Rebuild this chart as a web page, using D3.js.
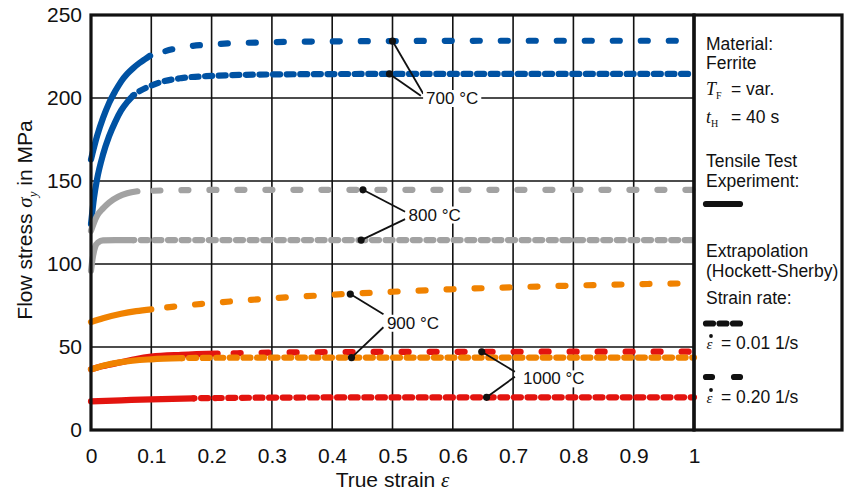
<!DOCTYPE html>
<html>
<head>
<meta charset="utf-8">
<script src="https://cdn.jsdelivr.net/npm/d3@7/dist/d3.min.js"></script>
<style>
  html, body { margin: 0; padding: 0; background: #fff; }
  svg { display: block; }
  text { font-family: Arial, "Liberation Sans", Helvetica, sans-serif; fill: #111; }
  .serif { font-family: "Liberation Serif", "DejaVu Serif", serif; }
</style>
</head>
<body>
<svg id="chart" width="847" height="494"></svg>
<script>
// Axis ticks
const strainTicks = [0, 0.1, 0.2, 0.3, 0.4, 0.5, 0.6, 0.7, 0.8, 0.9, 1];
const stressTicks = [0, 50, 100, 150, 200, 250];

// Flow curves [true strain, flow stress in MPa]
// "exp" = tensile test experiment, "ext" = Hockett-Sherby extrapolation
const f700_r020_exp = [[0, 163], [0.01, 177], [0.02, 188], [0.03, 197], [0.04, 204], [0.05, 210], [0.06, 214.5], [0.07, 218], [0.08, 221], [0.09, 223.5], [0.098, 225.5]];
const f700_r020_ext = [[0.098, 225.5], [0.15, 230.5], [0.2, 232.3], [0.3, 233.6], [0.4, 234.1], [0.5, 234.3], [0.7, 234.5], [1, 234.5]];
const f700_r001_exp = [[0, 124], [0.005, 140], [0.01, 151], [0.02, 166], [0.03, 177], [0.04, 185.5], [0.05, 192.5], [0.06, 197.5], [0.07, 201.5]];
const f700_r001_ext = [[0.07, 201.5], [0.08, 204], [0.1, 207.5], [0.12, 210], [0.15, 212], [0.2, 213.3], [0.3, 214.2], [0.5, 214.5], [1, 214.5]];

const f800_r020_exp = [[0, 120], [0.005, 125], [0.01, 129], [0.02, 133.5], [0.03, 137], [0.045, 140.5], [0.06, 142.6], [0.077, 143.8]];
const f800_r020_ext = [[0.077, 143.8], [0.15, 144.5], [0.3, 144.7], [1, 144.7]];
const f800_r001_exp = [[0, 96], [0.003, 104], [0.007, 110.5], [0.012, 113], [0.02, 114.2], [0.04, 114.4], [0.07, 114.4]];
const f800_r001_ext = [[0.07, 114.4], [0.3, 114.4], [1, 114.4]];

const f900_r020_exp = [[0, 65], [0.02, 67.3], [0.05, 70], [0.075, 71.6], [0.1, 72.7]];
const f900_r020_ext = [[0.1, 72.7], [0.15, 74.8], [0.2, 76.5], [0.3, 79.3], [0.4, 81.5], [0.5, 83.3], [0.6, 84.8], [0.7, 86], [0.8, 87], [0.9, 87.8], [1, 88.4]];
const f900_r001_exp = [[0, 36.5], [0.02, 38.7], [0.05, 40.9], [0.1, 42.6], [0.15, 43.3]];
const f900_r001_ext = [[0.15, 43.3], [0.2, 43.5], [0.3, 43.6], [1, 43.6]];

const f1000_r020_exp = [[0, 36.5], [0.02, 38.5], [0.05, 40.8], [0.075, 42.8], [0.1, 44.2], [0.15, 45.3], [0.21, 46]];
const f1000_r020_ext = [[0.21, 46], [0.3, 46.6], [0.4, 46.9], [0.6, 47.1], [1, 47.2]];
const f1000_r001_exp = [[0, 17.3], [0.05, 17.9], [0.1, 18.5], [0.17, 19.1]];
const f1000_r001_ext = [[0.17, 19.1], [0.25, 19.4], [0.4, 19.6], [1, 19.7]];

// Temperature labels: marked points on the curves
const labels700 = ["700 °C", [[0.5, 234.3], [0.495, 214.5]]];
const labels800 = ["800 °C", [[0.451, 144.7], [0.448, 114.4]]];
const labels900 = ["900 °C", [[0.43, 81.9], [0.432, 43.6]]];
const labels1000 = ["1000 °C", [[0.648, 47.1], [0.656, 19.7]]];

const colors = { c700: "#0052a3", c800: "#a2a2a2", c900: "#f08200", c1000: "#e3140f" };

const svg = d3.select("#chart");
const plot = { left: 91, right: 694, top: 15, bottom: 430 };

const x = d3.scaleLinear().domain([0, 1]).range([plot.left, plot.right]);
const y = d3.scaleLinear().domain([0, 250]).range([plot.bottom, plot.top]);

// Grid
const grid = svg.append("g");
grid.selectAll("line.v").data(strainTicks.slice(1, -1)).join("line")
  .attr("x1", d => x(d)).attr("x2", d => x(d))
  .attr("y1", plot.top).attr("y2", plot.bottom)
  .attr("stroke", "#111").attr("stroke-width", 1.6);
grid.selectAll("line.h").data(stressTicks.slice(1, -1)).join("line")
  .attr("y1", d => y(d)).attr("y2", d => y(d))
  .attr("x1", plot.left).attr("x2", plot.right)
  .attr("stroke", "#111").attr("stroke-width", 1.6);

// Axes (labels only; frame drawn separately)
const xAxis = svg.append("g").attr("transform", `translate(0,${plot.bottom})`)
  .call(d3.axisBottom(x).tickValues(strainTicks).tickSize(0).tickPadding(18).tickFormat(d => d3.format("")(d)));
const yAxis = svg.append("g").attr("transform", `translate(${plot.left},0)`)
  .call(d3.axisLeft(y).tickValues(stressTicks).tickSize(0).tickPadding(9));
[xAxis, yAxis].forEach(g => {
  g.select(".domain").remove();
  g.selectAll("text").style("font-size", "21px").attr("fill", "#111")
    .style("font-family", "Arial, 'Liberation Sans', sans-serif");
});

// Axis titles
const xt = svg.append("text").attr("x", x(0.5)).attr("y", 487)
  .attr("text-anchor", "middle").style("font-size", "21px");
xt.append("tspan").text("True strain ");
xt.append("tspan").attr("class", "serif").style("font-style", "italic").text("ε");

const yt = svg.append("text").attr("transform", "translate(32,220) rotate(-90)")
  .attr("text-anchor", "middle").style("font-size", "21px");
yt.append("tspan").text("Flow stress ");
yt.append("tspan").attr("class", "serif").style("font-style", "italic").text("σ");
yt.append("tspan").attr("class", "serif").style("font-style", "italic").style("font-size", "13px").attr("dy", 5).text("y");
yt.append("tspan").attr("dy", -5).text(" in MPa");

// Curves
const line = d3.line().x(d => x(d[0])).y(d => y(d[1])).curve(d3.curveMonotoneX);
const SW = 6.2;
const DOTTED = "7 6.6";
const DASHED = "7 21";
function drawCurve(expData, extData, color, dash) {
  svg.append("path").datum(extData).attr("d", line)
    .attr("fill", "none").attr("stroke", color).attr("stroke-width", SW)
    .attr("stroke-linecap", "round").attr("stroke-dasharray", dash)
    .attr("stroke-dashoffset", dash === DASHED ? 12 : 6);
  svg.append("path").datum(expData).attr("d", line)
    .attr("fill", "none").attr("stroke", color).attr("stroke-width", SW)
    .attr("stroke-linecap", "round");
}
drawCurve(f700_r020_exp, f700_r020_ext, colors.c700, DASHED);
drawCurve(f700_r001_exp, f700_r001_ext, colors.c700, DOTTED);
drawCurve(f800_r020_exp, f800_r020_ext, colors.c800, DASHED);
drawCurve(f800_r001_exp, f800_r001_ext, colors.c800, DOTTED);
drawCurve(f1000_r020_exp, f1000_r020_ext, colors.c1000, DASHED);
drawCurve(f1000_r001_exp, f1000_r001_ext, colors.c1000, DOTTED);
drawCurve(f900_r020_exp, f900_r020_ext, colors.c900, DASHED);
drawCurve(f900_r001_exp, f900_r001_ext, colors.c900, DOTTED);

// Frame of plot and legend box
svg.append("rect").attr("x", plot.left).attr("y", plot.top)
  .attr("width", plot.right - plot.left).attr("height", plot.bottom - plot.top)
  .attr("fill", "none").attr("stroke", "#111").attr("stroke-width", 3.2);
svg.append("rect").attr("x", plot.right).attr("y", plot.top)
  .attr("width", 148).attr("height", plot.bottom - plot.top)
  .attr("fill", "none").attr("stroke", "#111").attr("stroke-width", 3.2);

// Temperature callouts: leader lines, dots, boxed label
function callout(spec, center, ends) {
  const [label, pts] = spec;
  const g = svg.append("g");
  pts.forEach((p, i) => {
    g.append("line").attr("x1", x(p[0])).attr("y1", y(p[1]))
      .attr("x2", x(ends[i][0])).attr("y2", y(ends[i][1]))
      .attr("stroke", "#111").attr("stroke-width", 1.8);
    g.append("circle").attr("cx", x(p[0])).attr("cy", y(p[1])).attr("r", 3.6).attr("fill", "#111");
  });
  const t = g.append("text").attr("x", x(center[0])).attr("y", y(center[1]) + 6)
    .attr("text-anchor", "middle").style("font-size", "17px").text(label);
  const bb = t.node().getBBox();
  g.insert("rect", "text").attr("x", bb.x - 3).attr("y", bb.y + 1)
    .attr("width", bb.width + 6).attr("height", bb.height - 2).attr("fill", "#fff");
}
callout(labels700, [0.599, 200], [[0.551, 202.6], [0.547, 201.4]]);
callout(labels800, [0.57, 129.8], [[0.521, 131.5], [0.521, 127]]);
callout(labels900, [0.534, 64.6], [[0.485, 69.7], [0.485, 61.9]]);
callout(labels1000, [0.7675, 31.1], [[0.703, 35.1], [0.703, 32.1]]);

// Legend
const lg = svg.append("g").style("font-size", "17.5px");
const lx = 706;
function ltext(txt, yy) { return lg.append("text").attr("x", lx).attr("y", yy).text(txt); }
ltext("Material:", 50);
ltext("Ferrite", 68.5);
const tf = lg.append("text").attr("x", lx).attr("y", 95);
tf.append("tspan").attr("class", "serif").style("font-style", "italic").style("font-size", "18px").text("T");
tf.append("tspan").attr("class", "serif").style("font-size", "10px").attr("dy", 4).text("F");
tf.append("tspan").attr("x", 731).attr("dy", -4).text("= var.");
const th = lg.append("text").attr("x", lx).attr("y", 123);
th.append("tspan").attr("class", "serif").style("font-style", "italic").style("font-size", "18px").text("t");
th.append("tspan").attr("class", "serif").style("font-size", "10px").attr("dy", 4).text("H");
th.append("tspan").attr("x", 731).attr("dy", -4).text("= 40 s");
ltext("Tensile Test", 167);
ltext("Experiment:", 187);
lg.append("line").attr("x1", 706).attr("x2", 740).attr("y1", 204).attr("y2", 204)
  .attr("stroke", "#111").attr("stroke-width", SW).attr("stroke-linecap", "round");
ltext("Extrapolation", 256.5);
ltext("(Hockett-Sherby)", 276.5);
ltext("Strain rate:", 303.5);
lg.append("line").attr("x1", 706).attr("x2", 740).attr("y1", 323.5).attr("y2", 323.5)
  .attr("stroke", "#111").attr("stroke-width", SW).attr("stroke-linecap", "round")
  .attr("stroke-dasharray", "7 6.5");
// strain-rate symbol: italic epsilon with an overdot
function rateText(val, yy) {
  lg.append("text").attr("x", lx + 0.5).attr("y", yy).attr("class", "serif")
    .style("font-style", "italic").style("font-size", "15px").text("ε");
  lg.append("circle").attr("cx", lx + 5).attr("cy", yy - 12.5).attr("r", 1.9).attr("fill", "#111");
  lg.append("text").attr("x", 721).attr("y", yy).text("= " + val);
}
rateText("0.01 1/s", 348.5);
lg.append("line").attr("x1", 706).attr("x2", 740).attr("y1", 377).attr("y2", 377)
  .attr("stroke", "#111").attr("stroke-width", SW).attr("stroke-linecap", "round")
  .attr("stroke-dasharray", "6 22");
rateText("0.20 1/s", 402.5);
</script>
</body>
</html>
